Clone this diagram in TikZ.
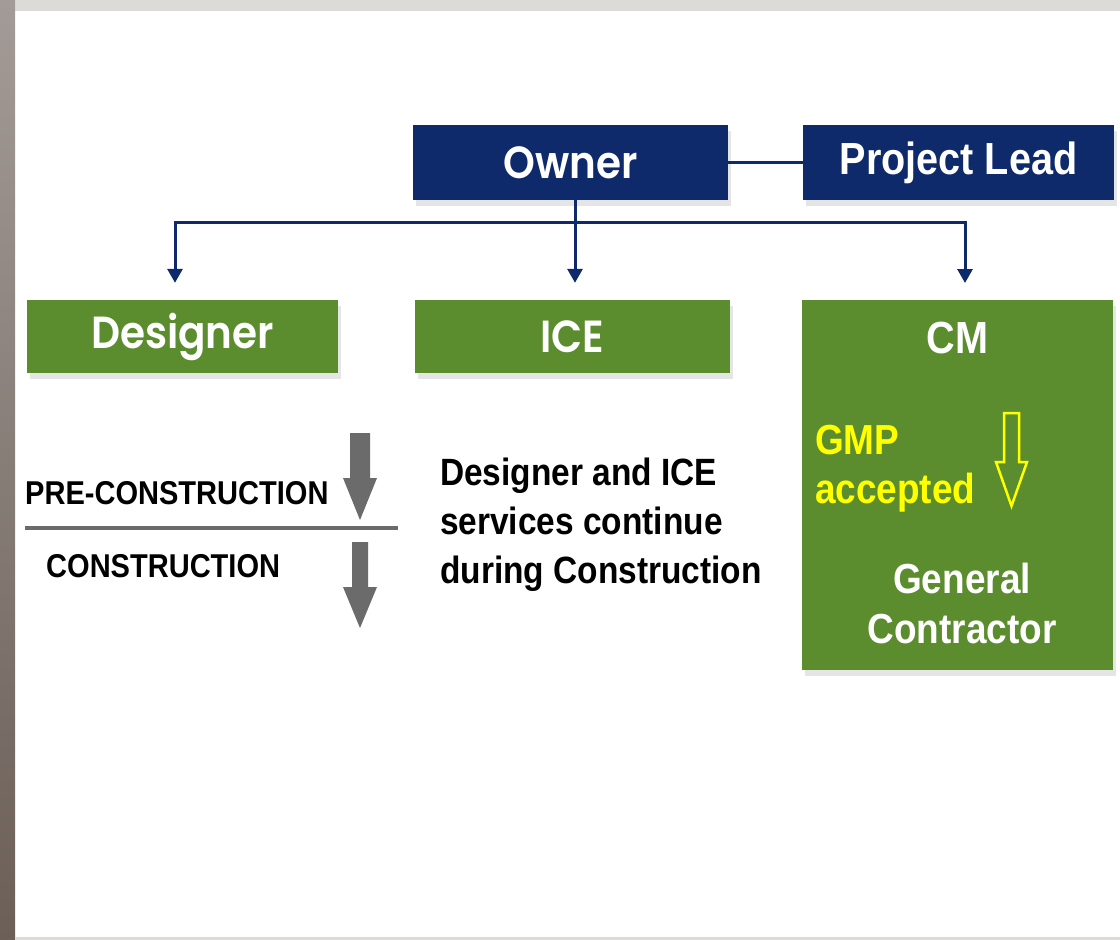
\documentclass[tikz,border=0pt]{standalone}
\usepackage{fontspec}
\setmainfont{Liberation Sans}
\newfontfamily\armfont{Liberation Sans}[FakeStretch=0.88]
\newfontfamily\gothfont{Poppins}[FakeStretch=0.9, BoldFont={* SemiBold}]
\usepackage{tikz}
\usetikzlibrary{arrows.meta,shadows,calc}
\definecolor{ownernavy}{HTML}{0F2A6B}
\definecolor{rolegreen}{HTML}{5B8D2E}
\definecolor{phasegray}{HTML}{6B6B6B}
\definecolor{gmpyellow}{HTML}{FFFF00}
\definecolor{framegray}{HTML}{DDDBD8}
\definecolor{edgetop}{HTML}{A39B97}
\definecolor{edgebottom}{HTML}{6B5F57}

\begin{document}
\begin{tikzpicture}[x=1pt,y=-1pt]
\tikzset{
	navy box/.style = {fill = ownernavy, text = white, minimum height = 75pt, inner sep = 0,
		drop shadow = {opacity = .2, shadow xshift = 3pt, shadow yshift = -6pt}},
	green box/.style = {fill = rolegreen, text = white, minimum height = 73pt, inner sep = 0,
		drop shadow = {opacity = .2, shadow xshift = 3pt, shadow yshift = -6pt}},
	goth label/.style = {font = \gothfont\bfseries\fontsize{45}{45}\selectfont},
	phase label/.style = {anchor = base west, inner sep = 0, font = \armfont\bfseries\fontsize{33}{33}\selectfont},
	link/.style = {draw = ownernavy, line width = 3pt},
	role link/.style = {link, -{Triangle[length = 14pt, width = 15pt]}},
}
% page frame
\useasboundingbox (0,0) rectangle (1120,940);
\fill[white] (0,0) rectangle (1120,940);
\fill[framegray] (0,0) rectangle (1120,11);
\shade[top color = edgetop, bottom color = edgebottom] (0,0) rectangle (15,940);
\fill[framegray] (15,937) rectangle (1120,940);

% boxes
\node[navy box, minimum width = 315pt, goth label] (owner) at (570.5,162.5) {Owner};
\node[navy box, minimum width = 311pt, font = \armfont\bfseries\fontsize{45}{45}\selectfont] (lead) at (958.5,162.5) {Project Lead};
\node[green box, minimum width = 311pt, goth label] (designer) at (182.5,336.5) {Designer};
\node[green box, minimum width = 315pt, goth label] (ice) at (572.5,336.5) {ICE};
\node[green box, minimum width = 311pt, minimum height = 370pt, anchor = north] (cm) at (957.5,300) {};
\node[text = white, font = \armfont\bfseries\fontsize{45}{45}\selectfont] (cm title) at (957.5,338) {CM};

% connectors
\draw[link] (owner) -- (lead);
\draw[link] ([xshift = 4.5pt]owner.south) -- ++(0,22) coordinate (hub);
\draw[role link] (hub) -| ([xshift = -7.5pt, yshift = 17pt]designer.north);
\draw[role link] (hub) -- ([xshift = 2.5pt, yshift = 17pt]ice.north);
\draw[role link] (hub) -| ([xshift = 7.5pt, yshift = 17pt]cm.north);

% phases
\node[phase label] (pre) at (25,504) {PRE-CONSTRUCTION};
\node[phase label] (con) at (46,577) {CONSTRUCTION};
\draw[phasegray, line width = 4pt] (25,528) -- (398,528);
\fill[phasegray] (350,433) -- (370,433) -- (370,478) -- (377,478) -- (360,520) -- (343,478) -- (350,478) -- cycle;
\fill[phasegray] (352,542) -- (368,542) -- (368,587) -- (377,587) -- (360,628) -- (343,587) -- (352,587) -- cycle;

\node[anchor = base west, align = left, inner sep = 0, font = \armfont\bfseries\fontsize{38}{49}\selectfont] (note) at (440,583) {Designer and ICE\\services continue\\during Construction};

% CM box contents
\node[anchor = base west, align = left, inner sep = 0, text = gmpyellow, font = \armfont\bfseries\fontsize{42}{49}\selectfont] (gmp) at (815,503) {GMP\\accepted};
\draw[gmpyellow, line width = 2.5pt] (1004,413) -- (1019,413) -- (1019,462) -- (1027,462) -- (1011.5,506) -- (996,462) -- (1004,462) -- cycle;
\node[anchor = base, align = center, inner sep = 0, text = white, font = \armfont\bfseries\fontsize{42}{50}\selectfont] (gc) at (962,643) {General\\Contractor};
\end{tikzpicture}
\end{document}
